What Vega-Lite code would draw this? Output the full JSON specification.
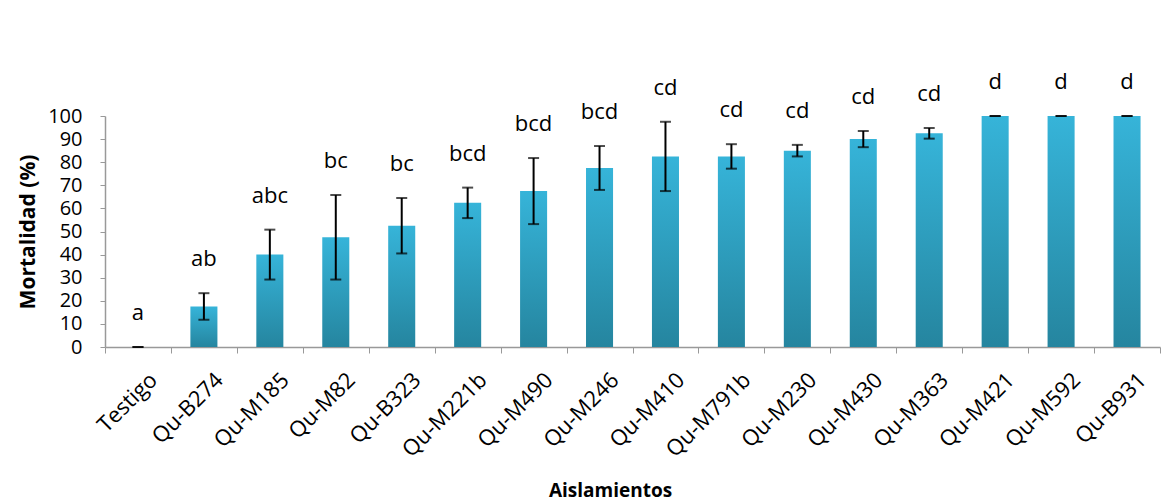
{
  "$schema": "https://vega.github.io/schema/vega-lite/v6.json",
  "width": 1055,
  "height": 231,
  "autosize": "none",
  "padding": {"left": 105, "top": 116, "right": 12, "bottom": 156},
  "background": "white",
  "config": {
    "view": {"stroke": null},
    "font": "Open Sans",
    "axisY": {
      "titleFontSize": 21,
      "titleFontWeight": "bold",
      "titleColor": "black",
      "titlePadding": 9,
      "labelFontSize": 20,
      "labelColor": "black",
      "labelPadding": 18,
      "labelOverlap": false,
      "labelFlush": false,
      "tickSize": 5,
      "tickColor": "#999999",
      "domainColor": "#999999",
      "domainWidth": 1.5,
      "grid": false
    }
  },
  "data": {
    "values": [
      {"aislamiento": "Testigo", "mortalidad": 0, "lo": 0, "hi": 0, "letra": "a"},
      {"aislamiento": "Qu-B274", "mortalidad": 17.5, "lo": 11.8, "hi": 23.3, "letra": "ab"},
      {"aislamiento": "Qu-M185", "mortalidad": 40, "lo": 29.2, "hi": 50.8, "letra": "abc"},
      {"aislamiento": "Qu-M82", "mortalidad": 47.5, "lo": 29.2, "hi": 65.8, "letra": "bc"},
      {"aislamiento": "Qu-B323", "mortalidad": 52.5, "lo": 40.5, "hi": 64.5, "letra": "bc"},
      {"aislamiento": "Qu-M221b", "mortalidad": 62.5, "lo": 55.8, "hi": 69, "letra": "bcd"},
      {"aislamiento": "Qu-M490", "mortalidad": 67.5, "lo": 53.2, "hi": 81.8, "letra": "bcd"},
      {"aislamiento": "Qu-M246", "mortalidad": 77.5, "lo": 68, "hi": 87, "letra": "bcd"},
      {"aislamiento": "Qu-M410", "mortalidad": 82.5, "lo": 67.5, "hi": 97.5, "letra": "cd"},
      {"aislamiento": "Qu-M791b", "mortalidad": 82.5, "lo": 77.2, "hi": 87.8, "letra": "cd"},
      {"aislamiento": "Qu-M230", "mortalidad": 85, "lo": 82.5, "hi": 87.5, "letra": "cd"},
      {"aislamiento": "Qu-M430", "mortalidad": 90, "lo": 86.5, "hi": 93.5, "letra": "cd"},
      {"aislamiento": "Qu-M363", "mortalidad": 92.5, "lo": 90.2, "hi": 94.8, "letra": "cd"},
      {"aislamiento": "Qu-M421", "mortalidad": 100, "lo": 100, "hi": 100, "letra": "d"},
      {"aislamiento": "Qu-M592", "mortalidad": 100, "lo": 100, "hi": 100, "letra": "d"},
      {"aislamiento": "Qu-B931", "mortalidad": 100, "lo": 100, "hi": 100, "letra": "d"}
    ]
  },
  "encoding": {
    "x": {
      "field": "aislamiento",
      "type": "nominal",
      "sort": null,
      "scale": {"paddingInner": 0, "paddingOuter": 0},
      "axis": {
        "title": "Aislamientos",
        "titleFontSize": 19,
        "titleFontWeight": "bold",
        "titleColor": "black",
        "titleX": 505,
        "titleY": 149,
        "titleBaseline": "alphabetic",
        "titleAlign": "center",
        "labelAngle": -45,
        "labelAlign": "right",
        "labelBaseline": "top",
        "labelFontSize": 22,
        "labelColor": "black",
        "labelPadding": 16,
        "labelOffset": 8,
        "labelOverlap": false,
        "tickBand": "extent",
        "tickSize": 6,
        "tickColor": "#999999",
        "domainColor": "#999999",
        "domainWidth": 1.5,
        "grid": false
      }
    }
  },
  "layer": [
    {
      "mark": {
        "type": "bar",
        "width": {"band": 0.41},
        "color": {
          "gradient": "linear",
          "x1": 0, "y1": 0, "x2": 0, "y2": 1,
          "stops": [
            {"offset": 0, "color": "#36B4D9"},
            {"offset": 1, "color": "#25859F"}
          ]
        }
      },
      "encoding": {
        "y": {
          "field": "mortalidad",
          "type": "quantitative",
          "scale": {"domain": [0, 100], "nice": false},
          "axis": {"title": "Mortalidad (%)", "values": [0, 10, 20, 30, 40, 50, 60, 70, 80, 90, 100]}
        }
      }
    },
    {
      "mark": {"type": "rule", "color": "black", "strokeWidth": 2},
      "encoding": {
        "y": {"field": "lo", "type": "quantitative", "axis": {"title": "Mortalidad (%)", "values": [0, 10, 20, 30, 40, 50, 60, 70, 80, 90, 100]}},
        "y2": {"field": "hi"}
      }
    },
    {
      "mark": {"type": "tick", "color": "black", "thickness": 2, "size": 11},
      "encoding": {"y": {"field": "lo", "type": "quantitative", "axis": {"title": "Mortalidad (%)", "values": [0, 10, 20, 30, 40, 50, 60, 70, 80, 90, 100]}}}
    },
    {
      "mark": {"type": "tick", "color": "black", "thickness": 2, "size": 11},
      "encoding": {"y": {"field": "hi", "type": "quantitative", "axis": {"title": "Mortalidad (%)", "values": [0, 10, 20, 30, 40, 50, 60, 70, 80, 90, 100]}}}
    },
    {
      "mark": {"type": "text", "fontSize": 22, "color": "black", "baseline": "middle", "dy": -34},
      "encoding": {
        "y": {"field": "hi", "type": "quantitative", "axis": {"title": "Mortalidad (%)", "values": [0, 10, 20, 30, 40, 50, 60, 70, 80, 90, 100]}},
        "text": {"field": "letra"}
      }
    }
  ]
}
